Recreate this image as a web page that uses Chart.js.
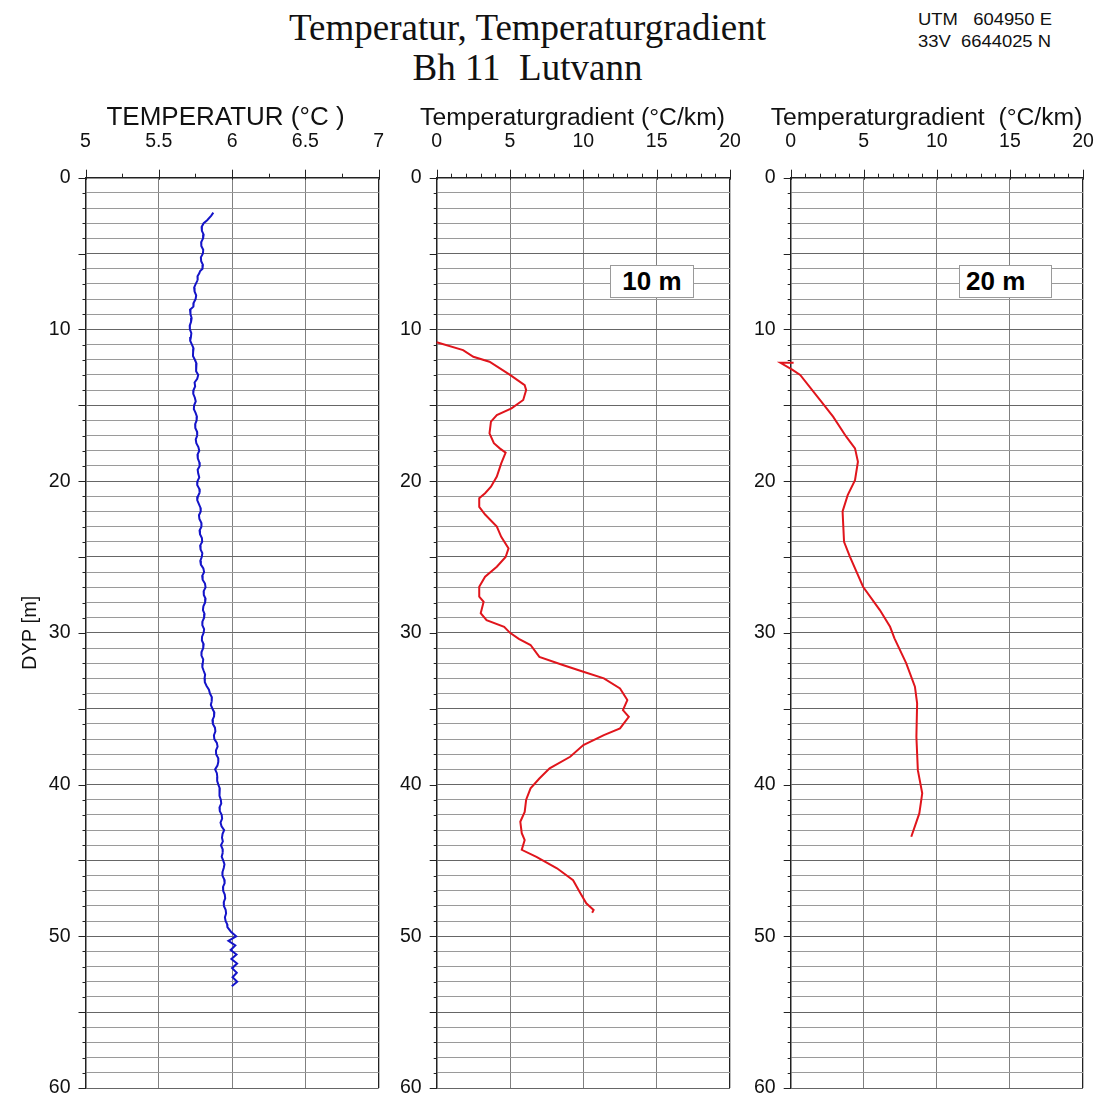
<!DOCTYPE html>
<html><head><meta charset="utf-8">
<script src="https://cdn.jsdelivr.net/npm/chart.js@4"></script>
<style>
body{margin:0;background:#fff;width:1099px;height:1095px;position:relative;overflow:hidden;font-family:"Liberation Sans",Arial,sans-serif}
.t{position:absolute;white-space:nowrap;color:#111}
canvas{position:absolute}
.box{position:absolute;background:#fff;border:1px solid #9a9a9a;font:bold 26px/30px "Liberation Sans",Arial,sans-serif;color:#000;box-sizing:border-box}
</style></head><body>
<div class="t" style="left:0;width:1055px;text-align:center;top:8px;font:37px/40px 'Liberation Serif',serif;">Temperatur, Temperaturgradient<br>Bh 11&nbsp; Lutvann</div>
<div class="t" style="left:918px;top:9px;font:16px/22px 'Liberation Sans',Arial,sans-serif;transform:scaleX(1.15);transform-origin:left top;">UTM&nbsp;&nbsp; 604950 E<br>33V&nbsp; 6644025 N</div>
<canvas id="c1" width="392" height="1000" style="left:0;top:95px"></canvas>
<canvas id="c2" width="352" height="1000" style="left:392px;top:95px"></canvas>
<canvas id="c3" width="355" height="1000" style="left:744px;top:95px"></canvas>
<div class="box" style="left:610px;top:265px;width:84px;height:33px;text-align:center;">10 m</div>
<div class="box" style="left:959px;top:265px;width:93px;height:33px;padding-left:6px;">20 m</div>
<script>
// ---- data ----
const tempDepth = [2.3,2.5,2.8,3.0,3.25,3.5,3.75,4.0,4.25,4.5,4.75,5.0,5.25,5.5,5.75,6.0,6.15,6.3,6.5,6.75,7.0,7.25,7.5,7.75,8.0,8.25,8.5,8.7,9.0,9.25,9.5,9.75,10.0,10.25,10.5,10.75,11.0,11.25,11.5,11.75,12.0,12.25,12.5,12.75,13.0,13.25,13.5,13.75,14.0,14.25,14.5,14.75,15.0,15.25,15.5,15.75,16.0,16.25,16.5,16.75,17.0,17.25,17.5,17.75,18.0,18.25,18.5,18.75,19.0,19.25,19.5,19.75,20.0,20.25,20.5,20.75,21.0,21.25,21.5,21.75,22.0,22.25,22.5,22.75,23.0,23.25,23.5,23.75,24.0,24.25,24.5,24.75,25.0,25.25,25.5,25.75,26.0,26.25,26.5,26.75,27.0,27.25,27.5,27.75,28.0,28.25,28.5,28.75,29.0,29.25,29.5,29.75,30.0,30.25,30.5,30.75,31.0,31.25,31.5,31.75,32.0,32.25,32.5,32.75,33.0,33.25,33.5,33.75,34.0,34.25,34.5,34.75,35.0,35.25,35.5,35.75,36.0,36.25,36.5,36.75,37.0,37.25,37.5,37.75,38.0,38.25,38.5,38.75,39.0,39.25,39.5,39.75,40.0,40.25,40.5,40.75,41.0,41.25,41.5,41.75,42.0,42.25,42.5,42.75,43.0,43.25,43.5,43.75,44.0,44.25,44.5,44.75,45.0,45.25,45.5,45.75,46.0,46.25,46.5,46.75,47.0,47.25,47.5,47.75,48.0,48.25,48.5,48.75,49.0,49.2,49.4,49.7,50.0,50.3,50.6,50.9,51.2,51.5,51.8,52.1,52.4,52.7,53.0,53.3];
const tempValue = [5.872,5.858,5.830,5.806,5.792,5.794,5.806,5.802,5.789,5.790,5.803,5.801,5.787,5.789,5.801,5.798,5.782,5.776,5.764,5.765,5.752,5.741,5.744,5.755,5.751,5.738,5.736,5.713,5.716,5.724,5.720,5.711,5.712,5.722,5.719,5.714,5.726,5.737,5.734,5.733,5.746,5.757,5.755,5.754,5.769,5.762,5.744,5.748,5.737,5.735,5.746,5.752,5.741,5.739,5.751,5.760,5.758,5.748,5.749,5.761,5.762,5.752,5.756,5.770,5.776,5.764,5.766,5.776,5.779,5.765,5.769,5.776,5.764,5.762,5.776,5.779,5.767,5.762,5.773,5.784,5.786,5.774,5.777,5.790,5.791,5.778,5.781,5.794,5.796,5.782,5.785,5.797,5.793,5.783,5.787,5.804,5.809,5.796,5.799,5.815,5.819,5.806,5.807,5.819,5.816,5.804,5.801,5.812,5.809,5.798,5.797,5.809,5.806,5.795,5.794,5.806,5.803,5.792,5.791,5.803,5.800,5.797,5.806,5.816,5.812,5.814,5.826,5.842,5.849,5.862,5.861,5.855,5.866,5.879,5.877,5.866,5.869,5.883,5.886,5.876,5.879,5.896,5.901,5.890,5.891,5.905,5.906,5.900,5.884,5.896,5.899,5.898,5.906,5.916,5.916,5.912,5.923,5.926,5.914,5.916,5.929,5.932,5.921,5.928,5.946,5.935,5.931,5.937,5.924,5.935,5.936,5.929,5.939,5.948,5.943,5.935,5.934,5.946,5.949,5.938,5.939,5.950,5.953,5.943,5.944,5.956,5.959,5.951,5.956,5.966,5.968,5.992,6.028,5.975,6.022,5.990,6.030,5.995,6.034,6.000,6.032,6.003,6.035,5.998];

const grad10Depth = [10.85,11.36,11.8,12.13,13.0,13.67,14.0,14.65,15.2,15.64,16.08,16.85,17.5,17.84,18.12,18.83,19.7,20.37,20.8,21.13,21.7,22.2,23.0,23.67,24.43,25.0,25.64,26.3,26.96,27.62,27.95,28.7,29.16,29.6,30.0,30.4,30.8,31.58,32.12,32.56,33.0,33.66,34.43,35.09,35.53,36.3,36.74,37.4,38.17,38.93,39.6,40.25,41.0,41.8,42.45,43.2,43.66,44.3,44.76,45.52,46.3,47.17,47.83,48.27,48.45];
const grad10Value = [0.0,1.8,2.5,3.6,5.0,6.0,6.1,5.9,5.1,4.1,3.7,3.6,3.9,4.3,4.7,4.4,4.1,3.7,3.3,2.9,2.9,3.3,4.1,4.4,4.9,4.7,4.1,3.3,2.9,2.9,3.2,3.0,3.4,4.6,5.0,5.6,6.4,7.0,8.6,10.0,11.4,12.5,13.0,12.7,13.1,12.5,11.4,10.0,9.1,7.7,7.0,6.4,6.1,6.0,5.7,5.8,6.0,5.8,6.8,8.2,9.3,9.8,10.2,10.7,10.6];

const grad20Depth = [12.2,12.2,12.65,13.0,14.65,15.75,17.07,17.84,18.72,19.93,20.92,22.0,23.0,24.0,24.98,26.96,28.5,29.6,30.36,32.0,33.55,34.65,36.85,39.05,40.58,41.9,43.44];
const grad20Value = [0.2,-0.7,0.1,0.65,2.0,2.9,3.8,4.4,4.6,4.4,3.9,3.55,3.6,3.65,4.05,4.95,6.1,6.8,7.1,7.9,8.5,8.65,8.6,8.7,9.0,8.8,8.25];

const depthMin = 0, depthMax = 60;
const panelTitles = ['TEMPERATUR (\u00B0C )', 'Temperaturgradient (\u00B0C/km)', 'Temperaturgradient  (\u00B0C/km)'];

// ---- drawing ----
const FONT = "'Liberation Sans', Arial, sans-serif";
const tickPlugin = {
  id: 'tickmarks',
  afterDraw(chart, args, opts) {
    const ctx = chart.ctx, area = chart.chartArea;
    const xs = chart.scales.x, ys = chart.scales.y;
    ctx.save();
    ctx.strokeStyle = '#222';
    ctx.lineWidth = 1;
    ctx.beginPath();
    xs.ticks.forEach(t => {
      const px = Math.round(xs.getPixelForValue(t.value)) + 0.5;
      const len = t.label !== '' ? 8 : 4;
      ctx.moveTo(px, area.top - len);
      ctx.lineTo(px, area.top + (t.label !== '' ? 2 : 0));
    });
    ys.ticks.forEach(t => {
      const py = Math.round(ys.getPixelForValue(t.value)) + 0.5;
      const len = (t.value % 5 === 0) ? 7 : 3;
      ctx.moveTo(area.left - len, py);
      ctx.lineTo(area.left, py);
    });
    ctx.stroke();
    // axis title (drawn without width compression)
    ctx.fillStyle = '#111';
    ctx.font = opts.size + 'px ' + FONT;
    ctx.textAlign = 'center';
    ctx.textBaseline = 'middle';
    ctx.fillText(opts.text, opts.x, opts.y);
    ctx.restore();
  }
};

function makeChart(id, cfg) {
  const pts = cfg.depth.map((d, i) => ({x: cfg.values[i], y: d}));
  return new Chart(document.getElementById(id), {
    type: 'scatter',
    data: {datasets: [{
      data: pts, showLine: true, borderColor: cfg.color, borderWidth: 2,
      pointRadius: 0, tension: 0, clip: false, fill: false
    }]},
    options: {
      responsive: false, animation: false, events: [],
      layout: {padding: {top: 0, left: 0, right: cfg.padRight, bottom: 7}},
      plugins: {legend: {display: false}, tooltip: {enabled: false},
        tickmarks: {text: cfg.xTitle, x: cfg.titleX, y: 23, size: cfg.titleSize}},
      scales: {
        x: {
          type: 'linear', position: 'top', min: cfg.xmin, max: cfg.xmax,
          afterFit: s => { s.height = 82.7; s.paddingLeft = 0; s.paddingRight = 0; },
          ticks: {
            stepSize: cfg.minor, autoSkip: false, maxRotation: 0, padding: 24,
            color: '#111', font: {family: FONT, size: 19.5},
            callback: v => (Math.abs(v / cfg.major - Math.round(v / cfg.major)) < 1e-9) ? String(v) : ''
          },
          grid: {
            drawTicks: false,
            color: c => {
              const v = c.tick.value;
              if (Math.abs(v - cfg.xmax) < 1e-9) return '#222';
              if (Math.abs(v / cfg.major - Math.round(v / cfg.major)) < 1e-9 && v !== cfg.xmin) return '#808080';
              return 'rgba(0,0,0,0)';
            },
            lineWidth: c => (Math.abs(c.tick.value - cfg.xmax) < 1e-9) ? 1.3 : 1
          },
          border: {display: true, color: '#222', width: 1.5},
          title: {display: false}
        },
        y: {
          type: 'linear', position: 'left', min: depthMin, max: depthMax, reverse: true,
          afterFit: s => { s.width = cfg.yWidth; s.paddingTop = 0; s.paddingBottom = 0; },
          ticks: {
            stepSize: 1, autoSkip: false, padding: 15, color: '#111',
            font: {family: FONT, size: 19.5},
            callback: v => (v % 10 === 0) ? String(v) : ''
          },
          grid: {
            drawTicks: false,
            color: c => (c.tick.value % 5 === 0) ? '#666666' : '#9a9a9a',
            lineWidth: 1
          },
          border: {display: true, color: '#222', width: 1.5},
          title: cfg.yTitle ? {display: true, text: cfg.yTitle, color: '#111', font: {family: FONT, size: 20}, padding: {top: 18, bottom: 0}} : {display: false}
        }
      }
    },
    plugins: [tickPlugin]
  });
}

makeChart('c1', {depth: tempDepth, values: tempValue, color: '#1414c8', xmin: 5, xmax: 7, minor: 0.25, major: 0.5,
  xTitle: panelTitles[0], titleX: 225.5, titleSize: 26, yWidth: 85.5, padRight: 392 - 378.7, yTitle: 'DYP [m]'});
makeChart('c2', {depth: grad10Depth, values: grad10Value, color: '#e0151c', xmin: 0, xmax: 20, minor: 1, major: 5,
  xTitle: panelTitles[1], titleX: 180.5, titleSize: 24.7, yWidth: 44.7, padRight: 352 - 338, yTitle: null});
makeChart('c3', {depth: grad20Depth, values: grad20Value, color: '#e0151c', xmin: 0, xmax: 20, minor: 1, major: 5,
  xTitle: panelTitles[2], titleX: 182.5, titleSize: 24.7, yWidth: 46.7, padRight: 355 - 339, yTitle: null});
</script>
</body></html>
